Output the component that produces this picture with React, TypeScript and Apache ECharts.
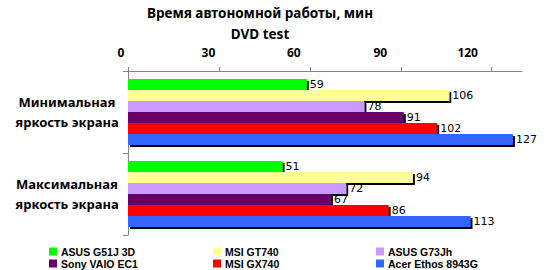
import React, { useEffect, useRef } from "react";
import * as echarts from "echarts";

const categories = ["Минимальная\nяркость экрана", "Максимальная\nяркость экрана"];
const seriesNames = ["ASUS G51J 3D", "MSI GT740", "ASUS G73Jh", "Sony VAIO EC1", "MSI GX740", "Acer Ethos 8943G"];
const seriesColors = ["#00FF00", "#FFFF99", "#CC99FF", "#660066", "#FF0000", "#3366FF"];
const asusG51J = [59, 51];
const msiGT740 = [106, 94];
const asusG73Jh = [78, 72];
const sonyVaio = [91, 67];
const msiGX740 = [102, 86];
const acerEthos = [127, 113];
const seriesValues = [asusG51J, msiGT740, asusG73Jh, sonyVaio, msiGX740, acerEthos];
const xTicks = [0, 30, 60, 90, 120];
const labelShift = [14, 21, 32, 41, 48];

const FONT = "'Noto Sans', sans-serif";
const LEGEND_FONT = "'Liberation Sans', Arial, sans-serif";

export default function App() {
  const ref = useRef<HTMLDivElement>(null);
  useEffect(() => {
    if (!ref.current) return;
    const chart = echarts.init(ref.current, null, { renderer: "svg" });
    const rich: any = {};
    xTicks.forEach((t, i) => {
      rich["s" + i] = { padding: [0, labelShift[i], 0, 0], fontWeight: "bold", fontSize: 12, fontFamily: FONT, color: "#000" };
    });
    const legendPos = [
      [49, 246], [213, 246], [376, 246],
      [49, 258], [213, 258], [376, 258],
    ];
    chart.setOption({
      animation: false,
      backgroundColor: "#fff",
      title: [
        { text: "Время автономной работы, мин", left: 260, top: 5, padding: 0, textAlign: "center",
          textStyle: { fontFamily: FONT, fontWeight: "bold", fontSize: 13.5, lineHeight: 16, color: "#000" } },
        { text: "DVD test", left: 260, top: 26, padding: 0, textAlign: "center",
          textStyle: { fontFamily: FONT, fontWeight: "bold", fontSize: 13.5, lineHeight: 16, color: "#000" } },
      ],
      legend: seriesNames.map((n, i) => ({
        data: [n],
        left: legendPos[i][0],
        top: legendPos[i][1],
        itemWidth: 8,
        itemHeight: 8,
        itemGap: 4,
        icon: "rect",
        padding: 0,
        textStyle: { fontFamily: LEGEND_FONT, fontWeight: "bold", fontSize: 10.5, lineHeight: 11, color: "#000", padding: [0, 0, 0, -1] },
      })),
      grid: { left: 128, top: 71, width: 394, height: 164 },
      xAxis: {
        type: "value",
        position: "top",
        min: 0,
        max: 130,
        interval: 30,
        splitLine: { show: false },
        axisLine: { show: true, lineStyle: { color: "#868686", width: 1 } },
        axisTick: { show: true, length: 4, lineStyle: { color: "#868686" } },
        axisLabel: {
          showMaxLabel: false,
          margin: 13,
          formatter: (v: number) => {
            const i = xTicks.indexOf(v);
            return i >= 0 ? `{s${i}|${v}}` : "";
          },
          rich,
        },
      },
      yAxis: {
        type: "category",
        data: categories,
        inverse: true,
        axisLine: { show: true, lineStyle: { color: "#868686", width: 1 } },
        axisTick: { show: true, length: 5, lineStyle: { color: "#868686" } },
        axisLabel: {
          align: "center",
          margin: 61,
          fontFamily: FONT,
          fontWeight: "bold",
          fontSize: 13,
          lineHeight: 20,
          color: "#000",
        },
      },
      series: seriesNames.map((n, i) => ({
        name: n,
        type: "bar",
        data: seriesValues[i],
        barWidth: 11,
        barGap: "0%",
        itemStyle: {
          color: seriesColors[i],
          shadowColor: "#000",
          shadowBlur: 0,
          shadowOffsetX: 2,
          shadowOffsetY: 2,
        },
        label: {
          show: true,
          position: "right",
          distance: 3,
          fontFamily: "'DejaVu Sans', sans-serif",
          fontSize: 11,
          color: "#000",
        },
      })),
    });
    return () => chart.dispose();
  }, []);
  return <div ref={ref} style={{ width: 550, height: 270, position: "absolute", left: 0, top: 0 }} />;
}
